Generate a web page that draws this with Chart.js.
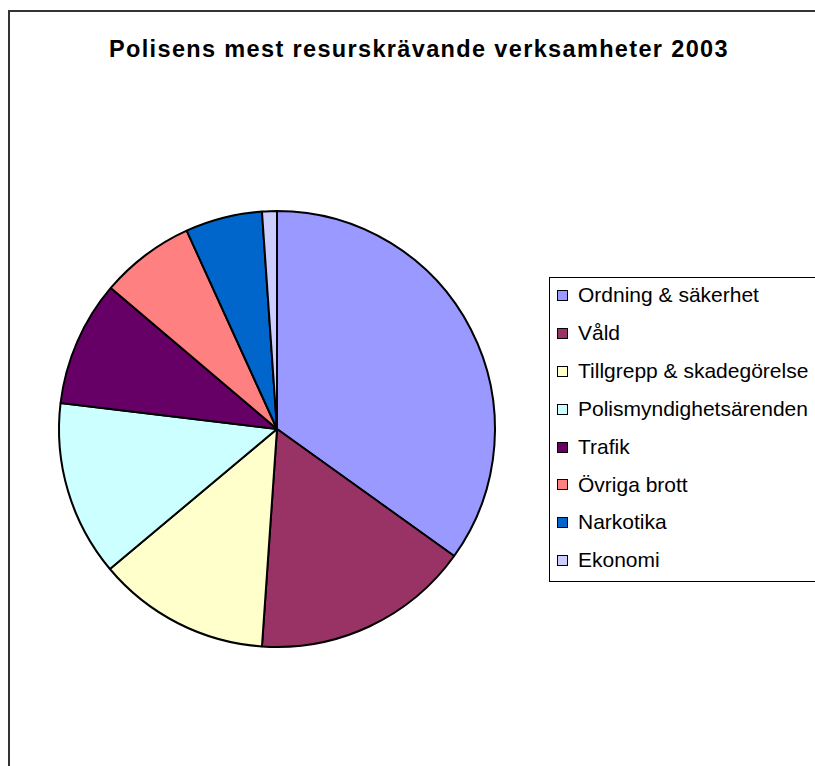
<!DOCTYPE html>
<html>
<head>
<meta charset="utf-8">
<script src="https://cdn.jsdelivr.net/npm/chart.js@4"></script>
<style>
  body { margin: 0; background: #fff; font-family: "Liberation Sans", Arial, sans-serif; }
  #wrap { position: relative; width: 815px; height: 766px; overflow: hidden; }
  #frame { position: absolute; left: 8px; top: 10px; width: 900px; height: 900px; border: 2px solid #333; }
  #title { position: absolute; left: 109px; top: 36px; white-space: nowrap; font-weight: bold; font-size: 23.5px; line-height: 27px; letter-spacing: 1.35px; color: #000; }
  #c { position: absolute; left: 0; top: 0; }
  #legend { position: absolute; left: 549px; top: 277px; width: 320px; height: 303px; border: 1px solid #000; background: #fff; }
  .item { position: absolute; left: 7px; font-size: 21px; line-height: 24px; color: #000; white-space: nowrap; }
  .item span.box { display: inline-block; width: 9px; height: 9px; border: 1px solid #000; margin-right: 10px; vertical-align: middle; position: relative; top: -1px; }
</style>
</head>
<body>
<div id="wrap">
  <div id="frame"></div>
  <div id="title">Polisens mest resurskrävande verksamheter 2003</div>
  <canvas id="c" width="815" height="766"></canvas>
  <div id="legend"></div>
</div>
<script>
// kategorier och andelar (procent)
var kategorier = ['Ordning & säkerhet', 'Våld', 'Tillgrepp & skadegörelse', 'Polismyndighetsärenden', 'Trafik', 'Övriga brott', 'Narkotika', 'Ekonomi'];
var andelar = [34.9, 16.2, 12.8, 13.0, 9.3, 7.0, 5.7, 1.1];
var farger = ['#9999FF', '#993366', '#FFFFCC', '#CCFFFF', '#660066', '#FF8080', '#0066CC', '#CCCCFF'];

// legend
var leg = document.getElementById('legend');
kategorier.forEach(function(k, i) {
    var d = document.createElement('div');
    d.className = 'item';
    d.style.top = (5 + i * 37.9) + 'px';
    d.innerHTML = '<span class="box" style="background:' + farger[i] + '"></span>' + k;
    leg.appendChild(d);
});

var ctx = document.getElementById('c');
var myChart = new Chart(ctx, {
    type: 'pie',
    data: {
        labels: kategorier,
        datasets: [{
            data: andelar,
            backgroundColor: farger,
            borderColor: '#000',
            borderWidth: 2
        }]
    },
    options: {
        responsive: false,
        animation: false,
        layout: { padding: { left: 58, right: 319, top: 210, bottom: 118 } },
        plugins: {
            legend: { display: false },
            tooltip: { enabled: false }
        }
    }
});
</script>
</body>
</html>
